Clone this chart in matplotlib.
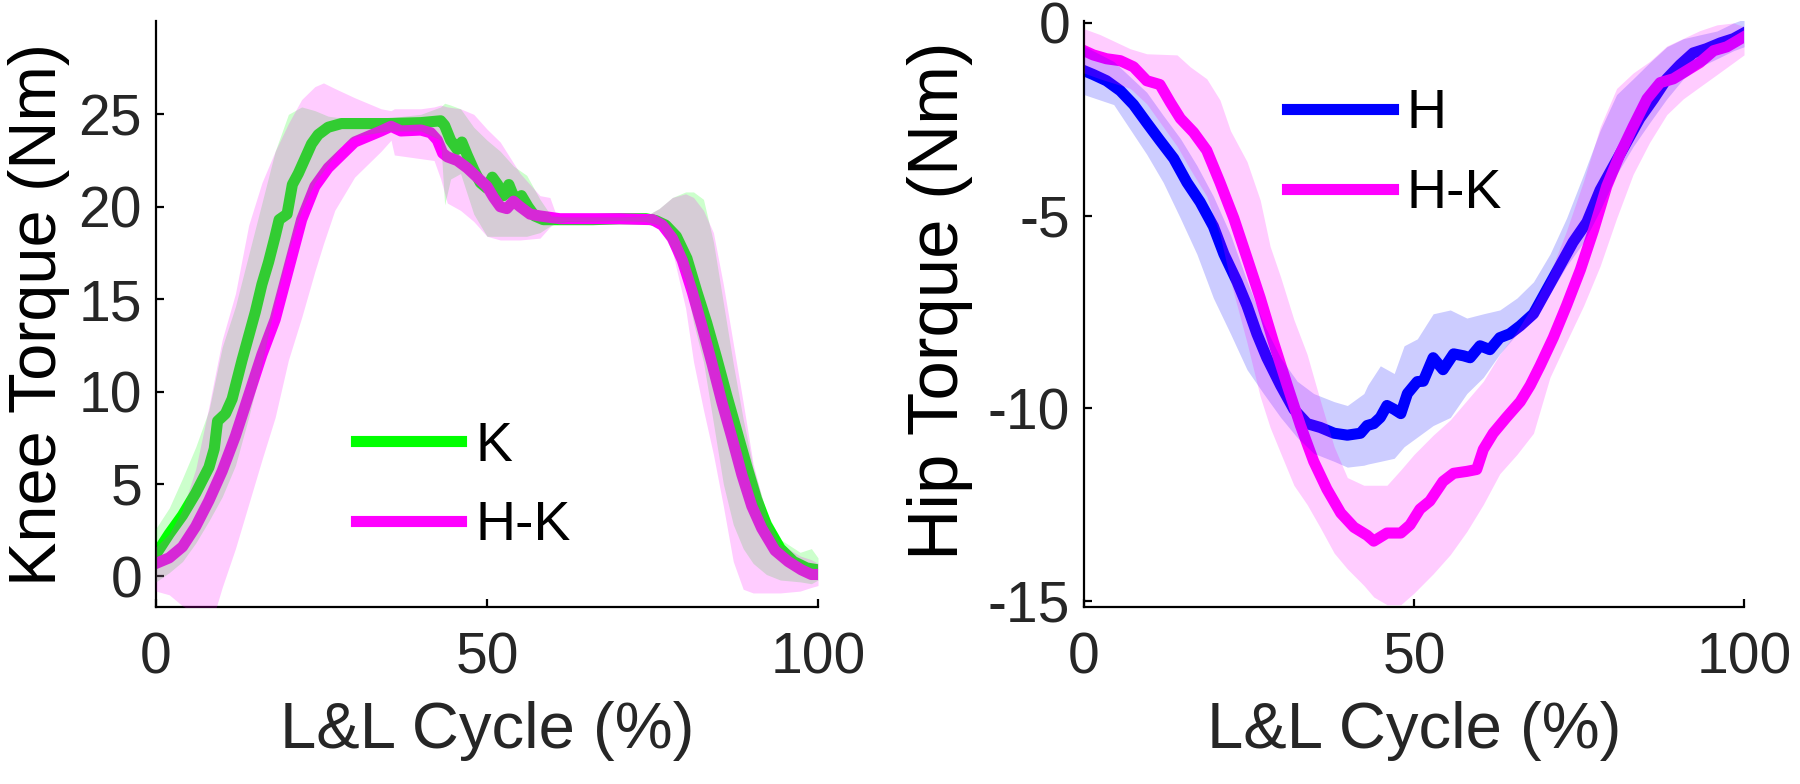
import matplotlib
matplotlib.use("Agg")
import matplotlib.pyplot as plt
from matplotlib.lines import Line2D

plt.rcParams['font.family'] = ['Liberation Sans', 'DejaVu Sans']
plt.rcParams['axes.unicode_minus'] = False

# ---------------- Knee torque (left) ----------------
k_x = [0, 2, 4, 6, 8, 8.8, 9.3, 10.5, 11.5, 12, 13, 14, 15, 16, 17, 18, 18.6, 19.8, 20.6, 21.5, 22.5,
       23.5, 24.5, 26, 28, 30, 35, 40, 43, 43.6, 44.5, 45.5, 46.2, 47, 48, 49, 50, 50.8, 51.6, 52.5,
       53.3, 54.3, 55.2, 56.2, 57.2, 58.5, 62, 66, 70, 74, 75.5, 77, 78.6, 80.2, 81.7, 83.2, 84.7,
       86.2, 87.7, 89.2, 90.7, 92.2, 94.3, 96.3, 98.3, 100]
k_mean = [1.2, 2.3, 3.3, 4.5, 5.9, 6.9, 8.4, 8.8, 9.6, 10.3, 11.7, 13.0, 14.3, 15.8, 17.0, 18.4, 19.3,
          19.6, 21.2, 21.8, 22.6, 23.4, 23.9, 24.3, 24.5, 24.5, 24.5, 24.55, 24.65, 24.4, 23.6, 23.1,
          23.5, 22.8, 22.0, 21.3, 21.0, 21.6, 21.2, 20.6, 21.2, 20.3, 20.6, 20.0, 19.5, 19.3, 19.3,
          19.3, 19.35, 19.35, 19.25, 19.0, 18.4, 17.2, 15.4, 13.7, 11.8, 9.8, 7.9, 6.0, 4.2, 2.8, 1.5,
          0.8, 0.45, 0.35]

k_band_x = [0, 2, 4, 6, 8, 10, 12, 14, 16, 18, 20, 22, 24, 26, 28, 30, 35, 40, 43, 43.6, 44.5, 46,
            48, 50, 52, 54, 56, 58, 59.7, 62, 70, 74, 76, 78, 80, 81.2, 82.7, 84.2, 85.7, 87.2, 88.7,
            90.2, 92.2, 94.3, 97.3, 99, 100]
k_upper = [2.6, 3.7, 5.3, 7.0, 9.0, 12.4, 14.6, 17.4, 20.2, 23.0, 25.0, 25.4, 25.2, 24.9, 24.8, 24.8,
           24.8, 25.0, 25.4, 25.6, 25.5, 25.3, 24.3, 23.6, 23.0, 22.2, 21.7, 20.4, 19.5, 19.45, 19.45,
           19.5, 19.9, 20.5, 20.8, 20.8, 20.4, 18.1, 14.8, 11.5, 8.5, 5.9, 3.5, 2.0, 1.3, 1.5, 1.0]
k_lower = [-0.3, 0.2, 0.8, 1.8, 3.0, 4.3, 6.0, 8.6, 11.5, 14.8, 17.6, 19.8, 21.3, 22.3, 23.3, 23.8,
           24.1, 24.1, 23.6, 20.1, 21.5, 21.8, 19.6, 18.4, 18.4, 18.4, 18.4, 18.6, 19.0, 19.2, 19.25,
           19.2, 19.0, 17.7, 16.0, 13.7, 11.6, 8.3, 5.0, 2.8, 1.5, 0.7, 0.1, -0.2, -0.3, -0.4, -0.2]

hk_knee_x = [0, 2, 4, 6, 8, 10, 12, 14, 16, 18, 20, 22, 24, 26, 28, 30, 32, 34, 35.5, 37, 40, 41.5,
             42.5, 43.3, 44, 45.5, 47, 48.5, 50, 51, 52, 53, 54, 55, 56.5, 58, 61, 66, 70, 75, 76.5,
             78, 79.5, 81, 82.5, 84, 85.5, 87, 88.5, 90, 91.5, 93.5, 95.5, 97.5, 99, 100]
hk_knee_mean = [0.7, 1.0, 1.6, 2.7, 4.1, 5.7, 7.6, 9.8, 12.0, 13.9, 16.6, 19.3, 21.1, 22.1, 22.8, 23.5,
                23.8, 24.1, 24.35, 24.1, 24.15, 24.0, 23.6, 22.9, 22.7, 22.5, 22.1, 21.6, 21.1, 20.5,
                20.0, 19.9, 20.3, 20.0, 19.6, 19.5, 19.35, 19.35, 19.35, 19.3, 19.0, 18.3, 17.1, 15.4,
                13.5, 11.5, 9.4, 7.5, 5.5, 3.8, 2.6, 1.4, 0.8, 0.35, 0.1, 0.1]

hk_knee_band_x = [0, 2, 4, 6, 8, 9, 10, 12, 14, 16, 18, 20, 22, 24, 25.3, 27, 30, 32, 34, 35.5, 36,
                  40, 42, 43, 44, 46, 48, 50, 52, 55, 58, 59.5, 60.5, 62, 70, 74, 76, 78, 80, 81.2,
                  82.7, 84.2, 85.7, 87.2, 88.7, 90.2, 92.2, 94.3, 97.3, 99, 100]
hk_knee_upper = [1.6, 2.3, 3.6, 5.8, 9.2, 11.0, 12.8, 15.3, 19.0, 21.3, 23.0, 24.5, 25.8, 26.5, 26.7,
                 26.4, 25.9, 25.6, 25.3, 25.2, 25.3, 25.3, 25.4, 25.5, 25.4, 25.3, 25.0, 24.2, 23.5,
                 21.8, 20.6, 20.5, 19.5, 19.45, 19.45, 19.5, 19.9, 20.5, 20.7, 20.5, 19.8, 18.6, 15.8,
                 12.6, 9.4, 6.1, 3.3, 1.75, 1.1, 0.9, 0.7]
hk_knee_lower = [-0.8, -1.0, -1.6, -2.0, -2.0, -1.8, -0.6, 1.5, 3.9, 6.3, 8.6, 11.7, 14.0, 16.5, 18.0,
                 19.8, 21.6, 22.3, 23.0, 23.6, 22.8, 22.6, 22.5, 21.5, 20.2, 19.8, 19.2, 18.4, 18.2,
                 18.2, 18.3, 18.9, 19.2, 19.25, 19.25, 19.2, 18.9, 17.6, 14.5, 11.6, 9.0, 6.6, 3.8,
                 0.8, -0.7, -0.9, -0.9, -0.9, -0.8, -0.6, -0.5]

# ---------------- Hip torque (right) ----------------
h_x = [0, 1.4, 3.4, 5.5, 7.5, 9.5, 11.5, 13.6, 15.6, 17.6, 19.6, 21.2, 23.2, 24.7, 26.2, 27.7, 29.8,
       31.8, 33.8, 35.8, 37.9, 39.9, 41.9, 42.9, 43.9, 44.9, 45.9, 47, 48, 49, 50.5, 51.4, 52.9, 54.4,
       56, 57.5, 58.5, 60, 61.5, 63, 64.5, 66.1, 68.1, 70.1, 72.1, 74.1, 76.2, 78.2, 80.2, 82.2, 84.2,
       86.3, 88.3, 90.3, 92.3, 94.3, 96.4, 98.4, 100]
h_mean = [-1.24, -1.34, -1.5, -1.76, -2.12, -2.59, -3.05, -3.52, -4.14, -4.65, -5.28, -6.0, -6.72,
          -7.34, -8.07, -8.69, -9.41, -10.03, -10.4, -10.5, -10.65, -10.7, -10.65, -10.45, -10.4,
          -10.24, -9.93, -10.03, -10.14, -9.62, -9.31, -9.3, -8.69, -9.0, -8.59, -8.64, -8.69, -8.38,
          -8.48, -8.17, -8.07, -7.86, -7.55, -6.93, -6.31, -5.69, -5.17, -4.34, -3.72, -3.1, -2.48,
          -1.97, -1.45, -1.09, -0.78, -0.67, -0.52, -0.41, -0.26]

h_band_x = [0, 4.5, 9.5, 12, 14.6, 17.1, 19.6, 22.2, 24.7, 27.2, 29.8, 32.3, 34.8, 37.9, 39.9, 42.4,
            43, 44.9, 47, 48.5, 50.5, 52.9, 55.5, 58, 60.5, 63, 65.6, 68.1, 70.6, 73.1, 75.7, 78.2,
            80.7, 83.2, 85.7, 88.3, 90.8, 93.3, 95.9, 98.4, 100]
h_upper = [-0.6, -1.0, -1.8, -2.4, -3.0, -3.7, -4.5, -5.5, -6.7, -7.8, -8.7, -9.3, -9.62, -9.83, -9.93,
           -9.62, -9.4, -8.9, -9.1, -8.38, -8.2, -7.55, -7.45, -7.66, -7.55, -7.45, -7.14, -6.72, -6.0,
           -5.07, -3.93, -2.79, -1.86, -1.45, -1.03, -0.62, -0.41, -0.31, -0.21, 0.0, 0.1]
h_lower = [-1.86, -2.12, -3.41, -4.14, -5.07, -6.0, -7.14, -8.07, -9.0, -9.62, -10.24, -10.76, -11.17,
           -11.38, -11.53, -11.48, -11.45, -11.38, -11.3, -11.0, -10.75, -10.45, -10.24, -9.62, -9.2,
           -8.59, -8.07, -7.66, -7.03, -6.31, -5.69, -4.86, -3.93, -3.21, -2.59, -1.97, -1.45, -1.14,
           -0.93, -0.72, -0.62]

hk_hip_x = [0, 1.4, 3.4, 5.5, 7.5, 9.5, 11.5, 13.1, 14.6, 16.6, 18.6, 20.6, 22.7, 24.7, 26.7, 28.7,
            30.8, 32.8, 34.8, 36.8, 38.9, 40.9, 42.9, 43.9, 45.9, 48, 49.4, 50.9, 52.4, 54.4, 56, 58,
            59.5, 60.5, 62, 64, 66.1, 67.6, 69.1, 71.1, 73.1, 75.2, 77.2, 79.2, 81.2, 83.2, 85.3, 87.3,
            89.3, 91.3, 93.3, 95.4, 97.4, 100]
hk_hip_mean = [-0.72, -0.83, -0.93, -0.98, -1.14, -1.5, -1.6, -2.07, -2.48, -2.84, -3.31, -4.14, -5.07,
               -6.1, -7.14, -8.28, -9.41, -10.45, -11.38, -12.1, -12.72, -13.09, -13.3, -13.45,
               -13.24, -13.24, -13.03, -12.62, -12.41, -11.9, -11.69, -11.64, -11.59, -11.07, -10.65,
               -10.24, -9.83, -9.41, -8.9, -8.17, -7.34, -6.41, -5.38, -4.24, -3.41, -2.69, -1.97,
               -1.55, -1.45, -1.24, -1.03, -0.72, -0.62, -0.36]

hk_hip_band_x = [0, 2.4, 7, 9.5, 14.1, 16.1, 18.6, 20.6, 22.2, 24.7, 26.7, 28.2, 29.8, 31.8, 33.8,
                 35.8, 37.9, 39.9, 42.4, 43.9, 45.9, 48, 50, 52.9, 55.5, 58, 60.5, 63, 65.6, 68.1,
                 70.6, 73.1, 75.7, 78.2, 80.7, 83.2, 85.7, 88.3, 90.8, 93.3, 95.9, 98.4, 100]
hk_hip_upper = [-0.15, -0.3, -0.67, -0.8, -0.83, -1.14, -1.45, -2.0, -2.8, -3.6, -4.6, -5.8, -6.6,
                -7.7, -8.6, -9.8, -11.0, -11.8, -12.0, -12.0, -12.0, -11.6, -11.2, -10.7, -10.3,
                -9.8, -9.3, -8.6, -8.0, -7.3, -6.5, -5.4, -4.1, -2.7, -1.7, -1.3, -1.0, -0.6, -0.4,
                -0.2, -0.05, 0.0, -0.1]
hk_hip_lower = [-1.3, -1.45, -1.7, -2.1, -3.2, -3.8, -4.5, -5.5, -6.7, -8.3, -9.7, -10.5, -11.17,
                -12.0, -12.5, -13.1, -13.76, -14.17, -14.6, -14.9, -15.1, -15.1, -14.8, -14.3, -13.8,
                -13.2, -12.5, -11.7, -11.2, -10.65, -9.2, -8.28, -7.34, -6.31, -5.07, -3.93, -3.1,
                -2.38, -1.97, -1.66, -1.34, -1.03, -0.83]

knee_yticks = [0, 5, 10, 15, 20, 25]
hip_yticks = [-15, -10, -5, 0]
x_ticks = [0, 50, 100]

GREEN = (0, 1, 0)
MAGENTA = (1, 0, 1)
BLUE = (0, 0, 1)
TXT = '#262626'

fig = plt.figure(figsize=(18, 7.84), dpi=100)
axL = fig.add_axes([156 / 1800, 1 - 607 / 784, 662 / 1800, 586 / 784])
axR = fig.add_axes([1084 / 1800, 1 - 607 / 784, 660 / 1800, 586 / 784])

LW = 8
# Left
axL.plot(k_x, k_mean, color=GREEN, lw=LW, zorder=2, solid_joinstyle='round')
axL.plot(hk_knee_x, hk_knee_mean, color=MAGENTA, lw=LW, zorder=2, solid_joinstyle='round')
axL.fill_between(k_band_x, k_lower, k_upper, color=GREEN, alpha=0.2, lw=0, zorder=3)
axL.fill_between(hk_knee_band_x, hk_knee_lower, hk_knee_upper, color=MAGENTA, alpha=0.2, lw=0, zorder=3)
axL.set_ylim(-1.66, 30.05)
axL.set_yticks(knee_yticks)
axL.set_ylabel('Knee Torque (Nm)', fontsize=48, color='black')

# Right
axR.plot(h_x, h_mean, color=BLUE, lw=LW, zorder=2, solid_joinstyle='round')
axR.plot(hk_hip_x, hk_hip_mean, color=MAGENTA, lw=LW, zorder=2, solid_joinstyle='round')
axR.fill_between(h_band_x, h_lower, h_upper, color=BLUE, alpha=0.2, lw=0, zorder=3)
axR.fill_between(hk_hip_band_x, hk_hip_lower, hk_hip_upper, color=MAGENTA, alpha=0.2, lw=0, zorder=3)
axR.set_ylim(-15.16, 0.05)
axR.set_yticks(hip_yticks)
axR.set_ylabel('Hip Torque (Nm)', fontsize=51, color='black')

for ax in (axL, axR):
    ax.set_xlim(0, 100)
    ax.set_xticks(x_ticks)
    ax.set_xlabel('L&L Cycle (%)', fontsize=47, color=TXT)
    for s in ('top', 'right'):
        ax.spines[s].set_visible(False)
    for s in ('left', 'bottom'):
        ax.spines[s].set_linewidth(1.6)
        ax.spines[s].set_color('black')
    ax.tick_params(axis='both', direction='in', length=6, width=1.6, labelsize=41,
                   labelcolor=TXT, color='black')
    ax.tick_params(axis='x', pad=18)
    ax.tick_params(axis='y', pad=10)
    ax.xaxis.set_label_coords(0.5, -0.16)

axL.yaxis.set_label_coords(-0.13, 0.5)
axR.yaxis.set_label_coords(-0.168, 0.522)

leg_kw = dict(frameon=False, fontsize=40, handlelength=1.9, handletextpad=0.25,
              labelspacing=0.5, borderpad=0, borderaxespad=0, loc='upper left')
hL = [Line2D([], [], color=GREEN, lw=8), Line2D([], [], color=MAGENTA, lw=8)]
axL.legend(hL, ['K', 'H-K'], bbox_to_anchor=(0.302, 0.318), **leg_kw)
hR = [Line2D([], [], color=BLUE, lw=8), Line2D([], [], color=MAGENTA, lw=8)]
axR.legend(hR, ['H', 'H-K'], bbox_to_anchor=(0.3076, 0.885), **leg_kw)

fig.savefig('out.png', dpi=100)
